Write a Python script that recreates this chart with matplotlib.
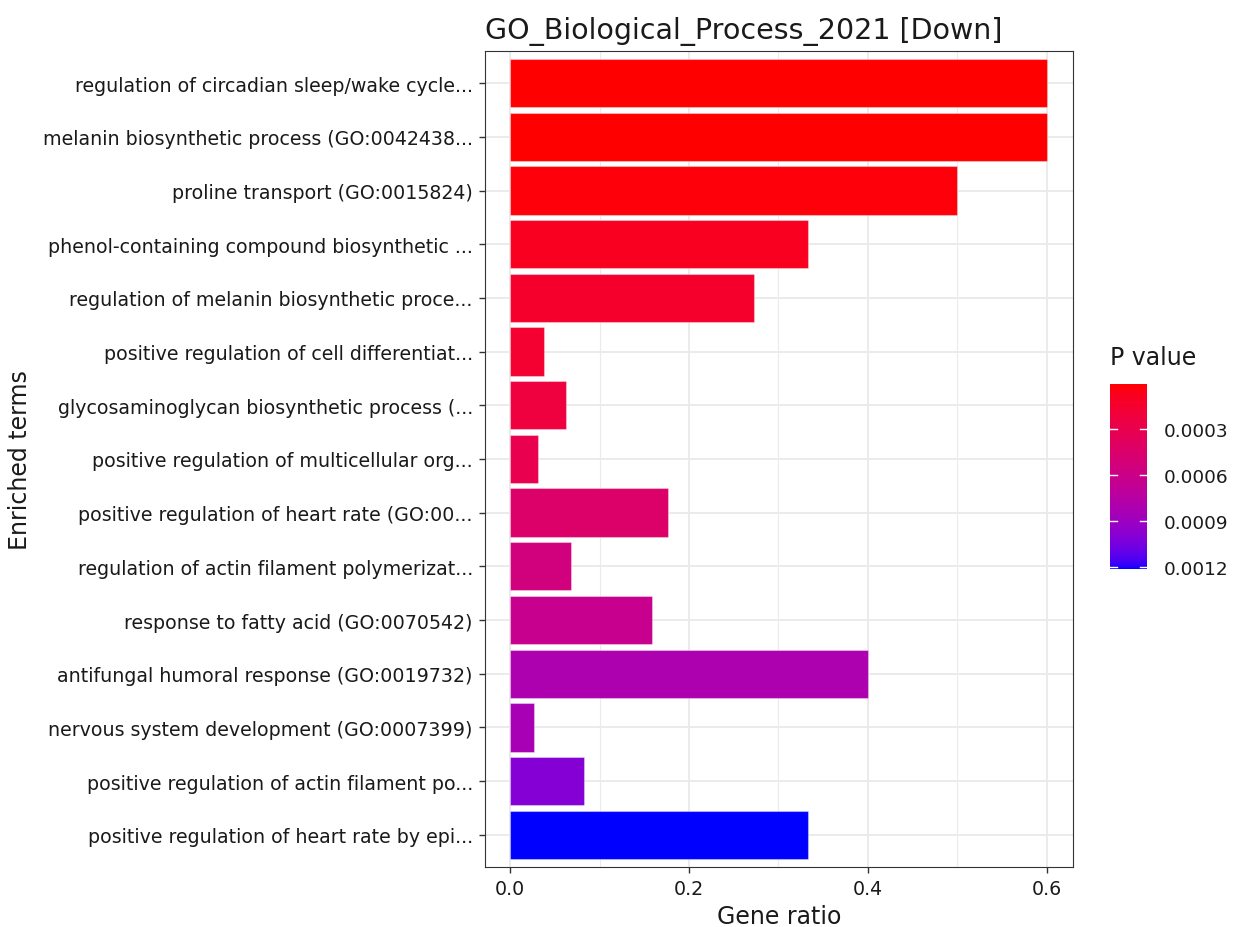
import matplotlib
matplotlib.use("Agg")
import matplotlib.pyplot as plt
import numpy as np
from matplotlib.colors import ListedColormap, Normalize

terms = [
    "regulation of circadian sleep/wake cycle...",
    "melanin biosynthetic process (GO:0042438...",
    "proline transport (GO:0015824)",
    "phenol-containing compound biosynthetic ...",
    "regulation of melanin biosynthetic proce...",
    "positive regulation of cell differentiat...",
    "glycosaminoglycan biosynthetic process (...",
    "positive regulation of multicellular org...",
    "positive regulation of heart rate (GO:00...",
    "regulation of actin filament polymerizat...",
    "response to fatty acid (GO:0070542)",
    "antifungal humoral response (GO:0019732)",
    "nervous system development (GO:0007399)",
    "positive regulation of actin filament po...",
    "positive regulation of heart rate by epi...",
]
gene_ratio = [0.6, 0.6, 0.5, 0.333, 0.273, 0.038, 0.0625, 0.031, 0.176,
              0.068, 0.158, 0.4, 0.027, 0.082, 0.333]
p_value = [0.000007, 0.00001, 0.00003, 0.00009, 0.00014, 0.00016, 0.00022,
           0.0003, 0.00044, 0.00054, 0.00063, 0.00081, 0.00084, 0.001, 0.00121]


# red -> blue gradient interpolated in Lab, like ggplot's scale_fill_gradient
def srgb_to_lab(c):
    c = np.asarray(c, float)
    lin = np.where(c <= 0.04045, c / 12.92, ((c + 0.055) / 1.055) ** 2.4)
    M = np.array([[0.4124, 0.3576, 0.1805],
                  [0.2126, 0.7152, 0.0722],
                  [0.0193, 0.1192, 0.9505]])
    xyz = M @ lin / np.array([0.95047, 1.0, 1.08883])
    f = np.where(xyz > 0.008856, np.cbrt(xyz), 7.787 * xyz + 16 / 116)
    return np.array([116 * f[1] - 16, 500 * (f[0] - f[1]), 200 * (f[1] - f[2])])


def lab_to_srgb(lab):
    L, a, b = lab
    fy = (L + 16) / 116
    fx = fy + a / 500
    fz = fy - b / 200
    f = np.array([fx, fy, fz])
    xyz = np.where(f ** 3 > 0.008856, f ** 3, (f - 16 / 116) / 7.787)
    xyz = xyz * np.array([0.95047, 1.0, 1.08883])
    Minv = np.array([[3.2406, -1.5372, -0.4986],
                     [-0.9689, 1.8758, 0.0415],
                     [0.0557, -0.2040, 1.0570]])
    lin = np.clip(Minv @ xyz, 0, 1)
    c = np.where(lin <= 0.0031308, 12.92 * lin, 1.055 * lin ** (1 / 2.4) - 0.055)
    return np.clip(c, 0, 1)


lab_lo = srgb_to_lab([1, 0, 0])
lab_hi = srgb_to_lab([0, 0, 1])
cols = [lab_to_srgb(lab_lo + (lab_hi - lab_lo) * t) for t in np.linspace(0, 1, 256)]
cmap = ListedColormap(cols)
norm = Normalize(vmin=min(p_value), vmax=max(p_value))

fig = plt.figure(figsize=(12.38, 9.28), dpi=100)
ax = fig.add_axes([0.392, 0.0647, 0.475, 0.8793])

ypos = np.arange(len(terms))[::-1] + 1
ax.barh(ypos, gene_ratio, height=0.9, color=cmap(norm(p_value)),
        edgecolor=(1, 1, 1, 0.35), linewidth=0.8, zorder=3)

ax.set_xlim(-0.028, 0.63)
ax.set_ylim(0.4, len(terms) + 0.6)
ax.set_xticks([0.0, 0.2, 0.4, 0.6])
ax.set_xticklabels(["0.0", "0.2", "0.4", "0.6"])
ax.set_xticks([0.1, 0.3, 0.5], minor=True)
ax.set_yticks(ypos)
ax.set_yticklabels(terms)
ax.grid(which="major", color="#EBEBEB", linewidth=1.4, zorder=0)
ax.grid(which="minor", axis="x", color="#EBEBEB", linewidth=0.8, zorder=0)
ax.set_axisbelow(True)
ax.tick_params(which="major", length=4, width=1, color="#333333",
               labelsize=13.7, labelcolor="#1A1A1A", pad=5)
ax.tick_params(which="minor", length=0)
for s in ax.spines.values():
    s.set_color("#333333")
    s.set_linewidth(0.8)

ax.set_xlabel("Gene ratio", fontsize=17, color="#1A1A1A", labelpad=4)
ax.set_ylabel("Enriched terms", fontsize=17, color="#1A1A1A", labelpad=8)
ax.set_title("GO_Biological_Process_2021 [Down]", fontsize=20.5, loc="left",
             color="#1A1A1A", pad=9)

# colour bar
cax = fig.add_axes([0.8966, 0.3858, 0.0299, 0.1994])
sm = plt.cm.ScalarMappable(norm=norm, cmap=cmap)
cb = fig.colorbar(sm, cax=cax, ticks=[0.0003, 0.0006, 0.0009, 0.0012])
cb.ax.set_yticklabels(["0.0003", "0.0006", "0.0009", "0.0012"])
cb.ax.invert_yaxis()
cb.outline.set_visible(False)
cb.ax.tick_params(length=0, labelsize=13.3, labelcolor="#1A1A1A", pad=12)
for t in [0.0003, 0.0006, 0.0009, 0.0012]:
    cb.ax.plot([0, 0.2], [t, t], color="white", lw=1, transform=cb.ax.get_yaxis_transform())
    cb.ax.plot([0.8, 1], [t, t], color="white", lw=1, transform=cb.ax.get_yaxis_transform())
fig.text(0.8966, 0.601, "P value", fontsize=17, color="#1A1A1A", va="bottom", ha="left")

fig.savefig("out.png", dpi=100)
